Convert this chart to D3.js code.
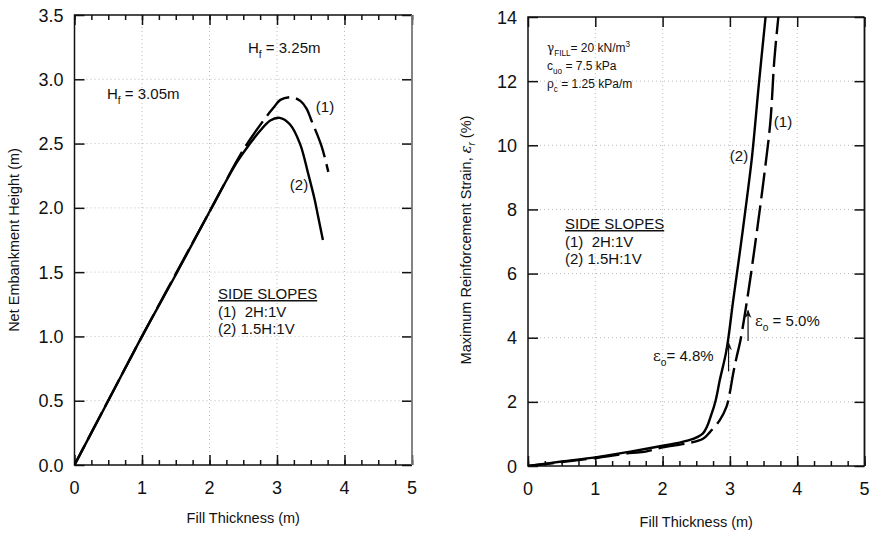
<!DOCTYPE html>
<html>
<head>
<meta charset="utf-8">
<script src="https://cdn.jsdelivr.net/npm/d3@7"></script>
<style>
  body { margin: 0; background: #fff; }
  svg text { font-family: "Liberation Sans", Arial, sans-serif; fill: #111; }
</style>
</head>
<body>
<svg id="chart" width="872" height="534"></svg>
<script>
// Net embankment height vs fill thickness, per side slope
const heightSlope1 = [ // (1) 2H:1V, dashed
  [0, 0], [1, 1], [2, 1.97], [2.5, 2.45], [2.8, 2.68], [2.95, 2.78], [3.05, 2.84],
  [3.22, 2.86], [3.35, 2.83], [3.44, 2.77], [3.51, 2.68], [3.66, 2.48], [3.76, 2.28]
];
const heightSlope2 = [ // (2) 1.5H:1V, solid
  [0, 0], [0.5, 0.5], [1, 1], [1.5, 1.48], [2, 1.97], [2.4, 2.35], [2.6, 2.5],
  [2.75, 2.6], [2.9, 2.68], [3.04, 2.70], [3.19, 2.65], [3.34, 2.50], [3.46, 2.27],
  [3.56, 2.06], [3.61, 1.93], [3.68, 1.75]
];
// Maximum reinforcement strain (%) vs fill thickness
const strainSlope1 = [ // (1) 2H:1V, dashed
  [0, 0], [0.5, 0.12], [1, 0.25], [1.5, 0.4], [1.75, 0.45], [2, 0.58], [2.35, 0.7],
  [2.6, 0.85], [2.7, 1.05], [2.85, 1.43], [2.95, 1.85], [3.0, 2.3], [3.05, 2.9],
  [3.1, 3.4], [3.15, 3.85], [3.22, 4.7], [3.3, 5.8], [3.4, 7.3], [3.5, 8.9],
  [3.6, 10.7], [3.66, 12.66], [3.72, 14]
];
const strainSlope2 = [ // (2) 1.5H:1V, solid
  [0, 0], [0.5, 0.14], [1, 0.27], [1.5, 0.44], [2, 0.63], [2.35, 0.78], [2.6, 1.02],
  [2.73, 1.64], [2.79, 2.06], [2.85, 2.68], [2.95, 3.62], [3.05, 5.18], [3.15, 6.7],
  [3.25, 8.3], [3.33, 9.67], [3.43, 11.9], [3.53, 14]
];
const xTicks = [0, 1, 2, 3, 4, 5];
const xMinorTicks = d3.range(0, 5.001, 0.25);
const heightTicks = [0, 0.5, 1, 1.5, 2, 2.5, 3, 3.5];
const strainTicks = [0, 2, 4, 6, 8, 10, 12, 14];

const svg = d3.select("#chart");

function panel(cfg) {
  const x = d3.scaleLinear().domain([0, 5]).range([cfg.left, cfg.right]);
  const y = d3.scaleLinear().domain(cfg.yDomain).range([cfg.bottom, cfg.top]);
  const g = svg.append("g");

  // dotted grid
  g.selectAll(".gx").data(xTicks.slice(1, -1)).join("line")
    .attr("x1", d => x(d)).attr("x2", d => x(d))
    .attr("y1", cfg.top).attr("y2", cfg.bottom)
    .attr("stroke", "#aaa").attr("stroke-width", 0.8).attr("stroke-dasharray", "1,3");
  g.selectAll(".gy").data(cfg.yTicks.slice(1, -1)).join("line")
    .attr("x1", cfg.left).attr("x2", cfg.right)
    .attr("y1", d => y(d)).attr("y2", d => y(d))
    .attr("stroke", "#aaa").attr("stroke-width", 0.8).attr("stroke-dasharray", "1,3");

  // inward ticks via d3 axes
  const tk = (axis) => axis.tickFormat("").tickSizeOuter(0);
  g.append("g").attr("transform", `translate(0,${cfg.bottom})`)
    .call(tk(d3.axisTop(x).tickValues(xMinorTicks).tickSize(5)));
  g.append("g").attr("transform", `translate(0,${cfg.bottom})`)
    .call(tk(d3.axisTop(x).tickValues(xTicks).tickSize(10)));
  g.append("g").attr("transform", `translate(0,${cfg.top})`)
    .call(tk(d3.axisBottom(x).tickValues(xTicks).tickSize(10)));
  if (cfg.topMinor) {
    g.append("g").attr("transform", `translate(0,${cfg.top})`)
      .call(tk(d3.axisBottom(x).tickValues(xMinorTicks).tickSize(5)));
  }
  g.append("g").attr("transform", `translate(${cfg.left},0)`)
    .call(tk(d3.axisRight(y).tickValues(cfg.yTicks).tickSize(10)));
  g.append("g").attr("transform", `translate(${cfg.right},0)`)
    .call(tk(d3.axisLeft(y).tickValues(cfg.yTicks).tickSize(10)));
  g.selectAll(".domain").remove();
  g.selectAll(".tick line").attr("stroke", "#111").attr("stroke-width", 1.5);

  // frame
  g.append("path")
    .attr("d", `M${cfg.right},${cfg.top} H${cfg.left} V${cfg.bottom} H${cfg.right}`)
    .attr("fill", "none").attr("stroke", "#111").attr("stroke-width", 1.5);
  g.append("line").attr("x1", cfg.right).attr("x2", cfg.right)
    .attr("y1", cfg.top).attr("y2", cfg.bottom)
    .attr("stroke", cfg.rightEdge).attr("stroke-width", 1.8);

  // tick labels
  g.selectAll(".xl").data(xTicks).join("text")
    .attr("x", d => x(d)).attr("y", cfg.bottom + 29)
    .attr("text-anchor", "middle").attr("font-size", 18).text(d => d);
  g.selectAll(".yl").data(cfg.yTicks).join("text")
    .attr("x", cfg.left - 11).attr("y", d => y(d) + 6.5)
    .attr("text-anchor", "end").attr("font-size", 18).text(cfg.yFormat);

  // axis title
  g.append("text").attr("x", (cfg.left + cfg.right) / 2).attr("y", cfg.xTitleY)
    .attr("text-anchor", "middle").attr("font-size", 14.5).text("Fill Thickness (m)");

  // curves, clipped to the plotting area
  const clipId = "clip" + cfg.id;
  svg.append("clipPath").attr("id", clipId).append("rect")
    .attr("x", cfg.left).attr("y", cfg.top)
    .attr("width", cfg.right - cfg.left).attr("height", cfg.bottom - cfg.top);
  const line = d3.line().x(d => x(d[0])).y(d => y(d[1])).curve(d3.curveCatmullRom.alpha(0.5));
  const cg = g.append("g").attr("clip-path", `url(#${clipId})`);
  cg.append("path").datum(cfg.s2).attr("d", line)
    .attr("fill", "none").attr("stroke", "#000").attr("stroke-width", 2.4);
  cg.append("path").datum(cfg.s1).attr("d", line)
    .attr("fill", "none").attr("stroke", "#000").attr("stroke-width", 2.4)
    .attr("stroke-dasharray", cfg.dash).attr("stroke-dashoffset", cfg.dashOffset);
  return { x, y, g };
}

const L = panel({
  id: "L", left: 74.5, right: 412, top: 15, bottom: 465,
  yDomain: [0, 3.5], yTicks: heightTicks, yFormat: d => d.toFixed(1),
  topMinor: true, xTitleY: 523, s1: heightSlope1, s2: heightSlope2,
  dash: "30,7", dashOffset: 8, rightEdge: "#777"
});
const R = panel({
  id: "R", left: 528, right: 864.5, top: 17, bottom: 466,
  yDomain: [0, 14], yTicks: strainTicks, yFormat: d => d,
  topMinor: false, xTitleY: 527, s1: strainSlope1, s2: strainSlope2,
  dash: "26,7", dashOffset: 0, rightEdge: "#111"
});

// y-axis titles
svg.append("text").attr("transform", "translate(19,240) rotate(-90)")
  .attr("text-anchor", "middle").attr("font-size", 14.5).text("Net Embankment Height (m)");
const yt = svg.append("text").attr("transform", "translate(471,240) rotate(-90)")
  .attr("text-anchor", "middle").attr("font-size", 14.5);
yt.append("tspan").text("Maximum Reinforcement Strain, ");
yt.append("tspan").attr("font-style", "italic").attr("font-family", "DejaVu Serif, serif").text("ε");
yt.append("tspan").attr("font-size", 10).attr("dy", 4).attr("font-style", "italic").text("r");
yt.append("tspan").attr("dy", -4).text(" (%)");

// text with a subscript or superscript part
function richText(g, x, y, parts, size) {
  const t = g.append("text").attr("x", x).attr("y", y).attr("font-size", size);
  let shift = 0;
  parts.forEach(p => {
    const s = t.append("tspan").text(p.t);
    const target = p.sub ? size * 0.3 : p.sup ? -size * 0.4 : 0;
    if (target !== shift) { s.attr("dy", target - shift); shift = target; }
    if (p.sub || p.sup) s.attr("font-size", size * 0.68);
    if (p.font) s.attr("font-family", p.font);
  });
  return t;
}

// left panel annotations
richText(svg, 248, 53, [{ t: "H" }, { t: "f", sub: true }, { t: " = 3.25m" }], 15);
richText(svg, 107, 99, [{ t: "H" }, { t: "f", sub: true }, { t: " = 3.05m" }], 15);
svg.append("text").attr("x", 325).attr("y", 112).attr("text-anchor", "middle").attr("font-size", 15).text("(1)");
svg.append("text").attr("x", 299).attr("y", 190).attr("text-anchor", "middle").attr("font-size", 15).text("(2)");

function slopeLegend(x, y) {
  svg.append("text").attr("x", x).attr("y", y).attr("font-size", 15)
    .attr("text-decoration", "underline").text("SIDE SLOPES");
  svg.append("text").attr("x", x).attr("y", y + 17.5).attr("font-size", 15)
    .attr("xml:space", "preserve").text("(1)  2H:1V");
  svg.append("text").attr("x", x).attr("y", y + 35).attr("font-size", 15).text("(2) 1.5H:1V");
}
slopeLegend(218, 299);
slopeLegend(565, 229);

// right panel annotations
richText(svg, 547, 52, [{ t: "γ", font: "DejaVu Serif, serif" }, { t: "FILL", sub: true }, { t: "= 20 kN/m" }, { t: "3", sup: true }], 12);
richText(svg, 547, 70, [{ t: "c" }, { t: "uo", sub: true }, { t: " = 7.5 kPa" }], 12);
richText(svg, 547, 88, [{ t: "ρ" }, { t: "c", sub: true }, { t: " = 1.25 kPa/m" }], 12);
svg.append("text").attr("x", 739).attr("y", 161).attr("text-anchor", "middle").attr("font-size", 15).text("(2)");
svg.append("text").attr("x", 783).attr("y", 127).attr("text-anchor", "middle").attr("font-size", 15).text("(1)");

richText(svg, 755, 326, [{ t: "ε", font: "DejaVu Serif, serif" }, { t: "o", sub: true }, { t: " = 5.0%" }], 15);
richText(svg, 653, 361, [{ t: "ε", font: "DejaVu Serif, serif" }, { t: "o", sub: true }, { t: "= 4.8%" }], 15);

// arrows marking the strain values
const defs = svg.append("defs");
defs.append("marker").attr("id", "arrow").attr("viewBox", "0 0 10 10")
  .attr("refX", 9).attr("refY", 5).attr("markerWidth", 7).attr("markerHeight", 9)
  .attr("orient", "auto")
  .append("path").attr("d", "M0,1 L10,5 L0,9 L3,5 Z").attr("fill", "#111");
[[3.27, 3.9, 4.85], [2.98, 2.95, 3.85]].forEach(([xv, y0, y1]) => {
  svg.append("line").attr("x1", R.x(xv)).attr("x2", R.x(xv))
    .attr("y1", R.y(y0)).attr("y2", R.y(y1))
    .attr("stroke", "#111").attr("stroke-width", 1.2).attr("marker-end", "url(#arrow)");
});
</script>
</body>
</html>
